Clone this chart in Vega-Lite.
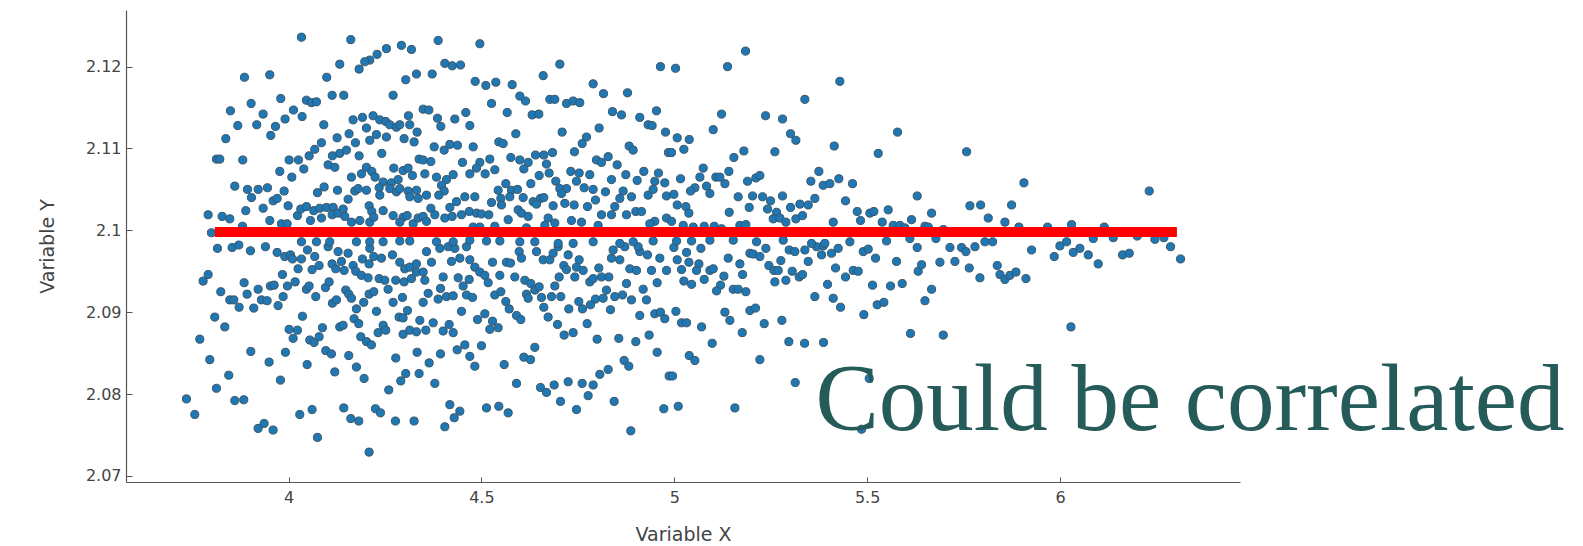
{
"$schema":"https://vega.github.io/schema/vega-lite/v6.json",
"width":1114,"height":472,
"autosize":{"type":"none"},
"padding":{"left":126,"top":10,"right":343,"bottom":64},
"background":"white",
"config":{"view":{"stroke":null}},
"datasets":{
"fit":[{"x":3.809,"y":2.0998},{"x":6.303,"y":2.0998}],
"note":[{"x":5.3658,"y":2.07563,"label":"Could be correlated"}],
"points":[
{"x":4.0335,"y":2.1236},{"x":4.1614,"y":2.1233},{"x":4.2927,"y":2.1226},{"x":4.3186,"y":2.1221},{"x":4.2538,"y":2.1222},{"x":4.2296,"y":2.1215},{"x":4.2106,"y":2.1208},{"x":4.1976,"y":2.1206},{"x":4.1830,"y":2.1197},{"x":4.1328,"y":2.1203},{"x":4.3039,"y":2.1184},{"x":4.3316,"y":2.1191},{"x":3.8857,"y":2.1187},{"x":3.9514,"y":2.1190},{"x":4.0991,"y":2.1187},{"x":4.2711,"y":2.1165},{"x":4.1130,"y":2.1165},{"x":4.1432,"y":2.1165},{"x":3.9799,"y":2.1161},{"x":4.0464,"y":2.1159},{"x":4.0594,"y":2.1156},{"x":4.0724,"y":2.1157},{"x":3.9030,"y":2.1155},{"x":3.8494,"y":2.1146},{"x":3.9341,"y":2.1142},{"x":4.0128,"y":2.1147},{"x":4.0352,"y":2.1139},{"x":3.9911,"y":2.1136},{"x":3.8685,"y":2.1128},{"x":3.9177,"y":2.1129},{"x":3.9661,"y":2.1127},{"x":3.9540,"y":2.1116},{"x":3.8374,"y":2.1112},{"x":4.0914,"y":2.1129},{"x":4.1674,"y":2.1135},{"x":4.1916,"y":2.1138},{"x":4.2192,"y":2.1140},{"x":4.2365,"y":2.1135},{"x":4.2521,"y":2.1133},{"x":4.2625,"y":2.1129},{"x":4.2797,"y":2.1126},{"x":4.2884,"y":2.1129},{"x":4.3109,"y":2.1140},{"x":4.3143,"y":2.1129},{"x":4.3333,"y":2.1120},{"x":4.2020,"y":2.1125},{"x":4.2279,"y":2.1117},{"x":4.2538,"y":2.1114},{"x":4.1570,"y":2.1118},{"x":4.1259,"y":2.1113},{"x":4.2106,"y":2.1110},{"x":4.1735,"y":2.1107},{"x":4.0853,"y":2.1107},{"x":4.0680,"y":2.1099},{"x":4.0534,"y":2.1091},{"x":4.1138,"y":2.1091},{"x":4.1328,"y":2.1094},{"x":4.1501,"y":2.1098},{"x":4.1830,"y":2.1091},{"x":4.2417,"y":2.1094},{"x":4.2996,"y":2.1112},{"x":4.3255,"y":2.1108},{"x":3.8132,"y":2.1087},{"x":3.8218,"y":2.1087},{"x":3.8814,"y":2.1086},{"x":4.0016,"y":2.1086},{"x":4.0258,"y":2.1086},{"x":4.0396,"y":2.1075},{"x":3.9774,"y":2.1072},{"x":4.0085,"y":2.1065},{"x":4.1027,"y":2.1080},{"x":4.1200,"y":2.1077},{"x":4.1631,"y":2.1065},{"x":4.1891,"y":2.1069},{"x":4.2020,"y":2.1077},{"x":4.2159,"y":2.1072},{"x":4.2245,"y":2.1065},{"x":4.2453,"y":2.1059},{"x":4.2669,"y":2.1058},{"x":4.2842,"y":2.1062},{"x":4.2728,"y":2.1076},{"x":4.2970,"y":2.1073},{"x":4.3100,"y":2.1076},{"x":4.3385,"y":2.1087},{"x":4.3212,"y":2.1067},{"x":3.8607,"y":2.1054},{"x":3.8936,"y":2.1050},{"x":3.9212,"y":2.1050},{"x":3.9454,"y":2.1052},{"x":3.9039,"y":2.1040},{"x":3.9886,"y":2.1048},{"x":3.9601,"y":2.1036},{"x":3.9705,"y":2.1039},{"x":3.9990,"y":2.1030},{"x":4.0750,"y":2.1046},{"x":4.0923,"y":2.1053},{"x":4.1269,"y":2.1049},{"x":4.1545,"y":2.1038},{"x":4.1718,"y":2.1048},{"x":4.1805,"y":2.1051},{"x":4.2020,"y":2.1049},{"x":4.2349,"y":2.1052},{"x":4.2366,"y":2.1043},{"x":4.2625,"y":2.1051},{"x":4.2798,"y":2.1047},{"x":4.2884,"y":2.1051},{"x":4.3101,"y":2.1048},{"x":4.3317,"y":2.1049},{"x":4.3144,"y":2.1041},{"x":4.3360,"y":2.1039},{"x":3.8892,"y":2.1024},{"x":3.9342,"y":2.1027},{"x":3.7916,"y":2.1019},{"x":3.8279,"y":2.1017},{"x":3.8478,"y":2.1014},{"x":3.8806,"y":2.1005},{"x":3.9515,"y":2.1012},{"x":3.9817,"y":2.1008},{"x":3.9964,"y":2.1008},{"x":4.0232,"y":2.1018},{"x":4.0318,"y":2.1026},{"x":4.0465,"y":2.1029},{"x":4.0655,"y":2.1024},{"x":4.0811,"y":2.1027},{"x":4.0984,"y":2.1028},{"x":4.1157,"y":2.1028},{"x":4.0854,"y":2.1015},{"x":4.0569,"y":2.1012},{"x":4.1131,"y":2.1019},{"x":4.1286,"y":2.1021},{"x":4.1416,"y":2.1026},{"x":4.1459,"y":2.1017},{"x":4.1632,"y":2.1010},{"x":4.1848,"y":2.1012},{"x":4.2090,"y":2.1030},{"x":4.2159,"y":2.1023},{"x":4.2453,"y":2.1024},{"x":4.2107,"y":2.1010},{"x":4.2211,"y":2.1016},{"x":4.2712,"y":2.1018},{"x":4.2971,"y":2.1016},{"x":4.3075,"y":2.1018},{"x":4.2885,"y":2.1010},{"x":4.3231,"y":2.1008},{"x":4.3360,"y":2.1015},{"x":3.8002,"y":2.0997},
{"x":4.3879,"y":2.1232},{"x":4.4960,"y":2.1228},{"x":4.4052,"y":2.1204},{"x":4.4242,"y":2.1201},{"x":4.4458,"y":2.1202},{"x":4.7033,"y":2.1203},{"x":4.9642,"y":2.1200},{"x":4.3724,"y":2.1191},{"x":4.6601,"y":2.1189},{"x":4.4838,"y":2.1182},{"x":4.5115,"y":2.1177},{"x":4.5374,"y":2.1181},{"x":4.5797,"y":2.1178},{"x":4.7897,"y":2.1179},{"x":4.8165,"y":2.1167},{"x":4.8787,"y":2.1168},{"x":4.5996,"y":2.1164},{"x":4.6143,"y":2.1158},{"x":4.5262,"y":2.1155},{"x":4.6774,"y":2.1160},{"x":4.6903,"y":2.1160},{"x":4.7206,"y":2.1155},{"x":4.7378,"y":2.1158},{"x":4.7551,"y":2.1156},{"x":4.5668,"y":2.1144},{"x":4.6316,"y":2.1141},{"x":4.6488,"y":2.1142},{"x":4.8398,"y":2.1145},{"x":4.8631,"y":2.1141},{"x":4.9106,"y":2.1138},{"x":4.9538,"y":2.1146},{"x":4.9322,"y":2.1129},{"x":4.9426,"y":2.1128},{"x":4.3490,"y":2.1148},{"x":4.3637,"y":2.1147},{"x":4.3862,"y":2.1137},{"x":4.3948,"y":2.1127},{"x":4.4311,"y":2.1136},{"x":4.4596,"y":2.1144},{"x":4.4700,"y":2.1128},{"x":4.5892,"y":2.1118},{"x":4.7093,"y":2.1120},{"x":4.8052,"y":2.1125},{"x":4.9772,"y":2.1120},{"x":4.7724,"y":2.1114},{"x":4.7612,"y":2.1106},{"x":4.8830,"y":2.1103},{"x":4.8934,"y":2.1098},{"x":4.9849,"y":2.1095},{"x":4.7413,"y":2.1096},{"x":4.5452,"y":2.1108},{"x":4.5564,"y":2.1106},{"x":4.3776,"y":2.1102},{"x":4.4035,"y":2.1098},{"x":4.4182,"y":2.1105},{"x":4.4380,"y":2.1104},{"x":4.4786,"y":2.1102},{"x":4.3490,"y":2.1086},{"x":4.3689,"y":2.1084},{"x":4.4510,"y":2.1083},{"x":4.4960,"y":2.1083},{"x":4.5218,"y":2.1087},{"x":4.4873,"y":2.1076},{"x":4.5097,"y":2.1069},{"x":4.5348,"y":2.1074},{"x":4.5763,"y":2.1089},{"x":4.5996,"y":2.1086},{"x":4.6212,"y":2.1083},{"x":4.6100,"y":2.1075},{"x":4.6402,"y":2.1092},{"x":4.6618,"y":2.1092},{"x":4.6843,"y":2.1095},{"x":4.6687,"y":2.1081},{"x":4.6756,"y":2.1070},{"x":4.6497,"y":2.1067},{"x":4.6281,"y":2.1057},{"x":4.7318,"y":2.1072},{"x":4.7534,"y":2.1070},{"x":4.7810,"y":2.1068},{"x":4.7465,"y":2.1060},{"x":4.7983,"y":2.1086},{"x":4.8113,"y":2.1083},{"x":4.8286,"y":2.1090},{"x":4.8519,"y":2.1080},{"x":4.8744,"y":2.1068},{"x":4.9037,"y":2.1061},{"x":4.9210,"y":2.1072},{"x":4.9590,"y":2.1070},{"x":4.9495,"y":2.1060},{"x":4.9754,"y":2.1058},{"x":4.8372,"y":2.1062},{"x":4.3534,"y":2.1069},{"x":4.3836,"y":2.1065},{"x":4.4095,"y":2.1062},{"x":4.4268,"y":2.1068},{"x":4.3966,"y":2.1055},{"x":4.4035,"y":2.1048},{"x":4.3896,"y":2.1043},{"x":4.3577,"y":2.1043},{"x":4.4700,"y":2.1069},{"x":4.5633,"y":2.1057},{"x":4.5434,"y":2.1049},{"x":4.5780,"y":2.1049},{"x":4.5936,"y":2.1050},{"x":4.5504,"y":2.1039},{"x":4.5737,"y":2.1041},{"x":4.6082,"y":2.1040},{"x":4.6342,"y":2.1035},{"x":4.6532,"y":2.1039},{"x":4.6618,"y":2.1040},{"x":4.6860,"y":2.1030},{"x":4.6929,"y":2.1060},{"x":4.7033,"y":2.1051},{"x":4.7206,"y":2.1051},{"x":4.7076,"y":2.1045},{"x":4.7664,"y":2.1052},{"x":4.7897,"y":2.1050},{"x":4.8216,"y":2.1047},{"x":4.8674,"y":2.1048},{"x":4.8588,"y":2.1039},{"x":4.8890,"y":2.1041},{"x":4.9322,"y":2.1043},{"x":4.9452,"y":2.1050},{"x":4.9798,"y":2.1042},{"x":4.4570,"y":2.1041},{"x":4.4830,"y":2.1041},{"x":4.5262,"y":2.1034},{"x":4.5521,"y":2.1031},{"x":4.5953,"y":2.1025},{"x":4.6039,"y":2.1021},{"x":4.6212,"y":2.1017},{"x":4.5694,"y":2.1013},{"x":4.6428,"y":2.1032},{"x":4.7162,"y":2.1033},{"x":4.7404,"y":2.1031},{"x":4.7750,"y":2.1029},{"x":4.7957,"y":2.1037},{"x":4.8458,"y":2.1029},{"x":4.8372,"y":2.1019},{"x":4.8113,"y":2.1019},{"x":4.8761,"y":2.1019},{"x":4.9003,"y":2.1023},{"x":4.9150,"y":2.1023},{"x":4.9798,"y":2.1015},{"x":4.9495,"y":2.1011},{"x":4.9366,"y":2.1008},{"x":4.3689,"y":2.1027},{"x":4.3793,"y":2.1019},{"x":4.3490,"y":2.1017},{"x":4.3577,"y":2.1011},{"x":4.4052,"y":2.1015},{"x":4.4242,"y":2.1017},{"x":4.4182,"y":2.1028},{"x":4.4354,"y":2.1035},{"x":4.4484,"y":2.1019},{"x":4.4683,"y":2.1023},{"x":4.4873,"y":2.1021},{"x":4.5002,"y":2.1020},{"x":4.5192,"y":2.1019},{"x":4.6730,"y":2.1015},{"x":4.6903,"y":2.1009},{"x":4.7335,"y":2.1012},{"x":4.7594,"y":2.1010},{"x":4.4786,"y":2.1004},{"x":4.4960,"y":2.1004},{"x":4.5348,"y":2.1005},{"x":4.6169,"y":2.1003},{"x":4.6644,"y":2.1006},{"x":4.8026,"y":2.1006},
{"x":5.0033,"y":2.1198},{"x":5.1847,"y":2.1219},{"x":5.1381,"y":2.1200},{"x":5.4292,"y":2.1182},{"x":5.3385,"y":2.1160},{"x":5.1225,"y":2.1142},{"x":5.2366,"y":2.1140},{"x":5.2806,"y":2.1136},{"x":5.1009,"y":2.1123},{"x":5.0076,"y":2.1113},{"x":5.0387,"y":2.1111},{"x":5.0249,"y":2.1099},{"x":4.9929,"y":2.1095},{"x":5.3014,"y":2.1118},{"x":5.3152,"y":2.1110},{"x":5.2608,"y":2.1096},{"x":5.1804,"y":2.1097},{"x":5.1545,"y":2.1089},{"x":5.4146,"y":2.1103},{"x":5.5787,"y":2.1120},{"x":5.5286,"y":2.1094},{"x":5.0750,"y":2.1076},{"x":5.0664,"y":2.1065},{"x":5.0162,"y":2.1063},{"x":5.1415,"y":2.1072},{"x":5.1078,"y":2.1065},{"x":5.1182,"y":2.1065},{"x":5.1312,"y":2.1057},{"x":5.0836,"y":2.1054},{"x":5.0534,"y":2.1052},{"x":5.0422,"y":2.1048},{"x":5.0923,"y":2.1045},{"x":4.9990,"y":2.1044},{"x":5.1899,"y":2.1060},{"x":5.2115,"y":2.1064},{"x":5.2219,"y":2.1067},{"x":5.3748,"y":2.1072},{"x":5.3541,"y":2.1060},{"x":5.3860,"y":2.1055},{"x":5.4033,"y":2.1057},{"x":5.4266,"y":2.1063},{"x":5.4621,"y":2.1057},{"x":5.1657,"y":2.1041},{"x":5.2029,"y":2.1042},{"x":5.2288,"y":2.1041},{"x":5.2495,"y":2.1036},{"x":5.2806,"y":2.1042},{"x":5.3644,"y":2.1039},{"x":5.4439,"y":2.1036},{"x":5.6297,"y":2.1042},{"x":5.0076,"y":2.1031},{"x":5.0301,"y":2.1029},{"x":5.0378,"y":2.1021},{"x":5.1942,"y":2.1028},{"x":5.2418,"y":2.1026},{"x":5.2651,"y":2.1022},{"x":5.3014,"y":2.1028},{"x":5.3256,"y":2.1032},{"x":5.3472,"y":2.1031},{"x":5.1424,"y":2.1022},{"x":5.2564,"y":2.1014},{"x":5.2737,"y":2.1015},{"x":5.2893,"y":2.1010},{"x":5.3152,"y":2.1014},{"x":5.3325,"y":2.1018},{"x":5.4742,"y":2.1023},{"x":5.5070,"y":2.1021},{"x":5.5174,"y":2.1023},{"x":5.5545,"y":2.1025},{"x":5.4828,"y":2.1012},{"x":5.5390,"y":2.1010},{"x":5.6150,"y":2.1013},{"x":5.4120,"y":2.1010},{"x":5.0232,"y":2.1006},{"x":5.0491,"y":2.1004},{"x":5.0776,"y":2.1005},{"x":5.1035,"y":2.1005},{"x":5.1225,"y":2.1002},{"x":5.1700,"y":2.1006},{"x":5.1856,"y":2.1007},{"x":5.5675,"y":2.1006},{"x":5.5848,"y":2.1006},{"x":5.5977,"y":2.1003},{"x":4.9929,"y":2.1011},
{"x":5.7578,"y":2.1096},{"x":5.9064,"y":2.1058},{"x":6.2312,"y":2.1048},{"x":5.7664,"y":2.1030},{"x":5.7941,"y":2.1031},{"x":5.8744,"y":2.1031},{"x":5.6670,"y":2.1021},{"x":5.8139,"y":2.1015},{"x":5.8571,"y":2.1010},{"x":5.6498,"y":2.1005},{"x":5.6584,"y":2.1004},{"x":5.6973,"y":2.1001},{"x":5.8934,"y":2.1004},{"x":5.9677,"y":2.1004},{"x":6.0299,"y":2.1007},{"x":6.1146,"y":2.1004},{"x":5.6783,"y":2.0990},{"x":5.8053,"y":2.0986},{"x":5.8252,"y":2.0986},{"x":6.0861,"y":2.0990},{"x":6.1379,"y":2.0991},{"x":6.2001,"y":2.0993},{"x":6.2459,"y":2.0989},{"x":6.2692,"y":2.0991},{"x":6.0170,"y":2.0986},
{"x":3.8158,"y":2.0978},{"x":3.8538,"y":2.0979},{"x":3.8711,"y":2.0982},{"x":3.9013,"y":2.0975},{"x":3.9402,"y":2.0980},{"x":3.9704,"y":2.0973},{"x":3.9903,"y":2.0968},{"x":4.0050,"y":2.0970},{"x":4.0102,"y":2.0965},{"x":4.0335,"y":2.0965},{"x":4.0248,"y":2.0953},{"x":4.0490,"y":2.0976},{"x":4.0680,"y":2.0968},{"x":4.0793,"y":2.0957},{"x":4.0611,"y":2.0952},{"x":4.1026,"y":2.0980},{"x":4.1130,"y":2.0959},{"x":4.1285,"y":2.0974},{"x":4.1372,"y":2.0962},{"x":4.1225,"y":2.0953},{"x":4.1441,"y":2.0951},{"x":4.1544,"y":2.0972},{"x":4.1674,"y":2.0957},{"x":4.1743,"y":2.0950},{"x":4.1916,"y":2.0965},{"x":4.2106,"y":2.0978},{"x":4.2210,"y":2.0968},{"x":4.2089,"y":2.0959},{"x":4.1890,"y":2.0945},{"x":4.2063,"y":2.0942},{"x":4.2408,"y":2.0966},{"x":4.2694,"y":2.0970},{"x":4.2884,"y":2.0961},{"x":4.3013,"y":2.0953},{"x":4.3143,"y":2.0955},{"x":4.3316,"y":2.0949},{"x":4.2348,"y":2.0941},{"x":4.2495,"y":2.0939},{"x":4.2780,"y":2.0939},{"x":4.2996,"y":2.0937},{"x":4.3186,"y":2.0941},{"x":4.3316,"y":2.0959},{"x":3.7916,"y":2.0946},{"x":3.7786,"y":2.0938},{"x":3.8244,"y":2.0925},{"x":3.8477,"y":2.0915},{"x":3.8581,"y":2.0915},{"x":3.8719,"y":2.0906},{"x":3.8849,"y":2.0936},{"x":3.8926,"y":2.0922},{"x":3.9212,"y":2.0928},{"x":3.9298,"y":2.0915},{"x":3.9445,"y":2.0914},{"x":3.9531,"y":2.0932},{"x":3.9626,"y":2.0933},{"x":3.9842,"y":2.0946},{"x":3.9860,"y":2.0919},{"x":3.9730,"y":2.0908},{"x":3.9972,"y":2.0932},{"x":4.0171,"y":2.0937},{"x":4.0464,"y":2.0928},{"x":4.0534,"y":2.0932},{"x":4.0706,"y":2.0919},{"x":4.0957,"y":2.0930},{"x":4.1052,"y":2.0937},{"x":3.9099,"y":2.0905},{"x":4.1138,"y":2.0911},{"x":4.1242,"y":2.0915},{"x":4.1484,"y":2.0927},{"x":4.1562,"y":2.0922},{"x":4.1631,"y":2.0917},{"x":4.1760,"y":2.0904},{"x":4.1950,"y":2.0912},{"x":4.2089,"y":2.0922},{"x":4.2210,"y":2.0925},{"x":4.2279,"y":2.0901},{"x":4.2581,"y":2.0928},{"x":4.2711,"y":2.0912},{"x":4.2953,"y":2.0918},{"x":4.3083,"y":2.0902},{"x":4.2866,"y":2.0894},{"x":4.2970,"y":2.0893},{"x":3.8088,"y":2.0894},{"x":3.8348,"y":2.0882},{"x":3.7700,"y":2.0867},{"x":4.0361,"y":2.0895},{"x":4.0015,"y":2.0879},{"x":4.0231,"y":2.0878},{"x":4.0119,"y":2.0868},{"x":4.0551,"y":2.0866},{"x":4.0663,"y":2.0863},{"x":4.0793,"y":2.0870},{"x":4.0879,"y":2.0881},{"x":4.1328,"y":2.0882},{"x":4.1415,"y":2.0884},{"x":4.1700,"y":2.0892},{"x":4.1821,"y":2.0886},{"x":4.1873,"y":2.0870},{"x":4.2020,"y":2.0864},{"x":4.2149,"y":2.0860},{"x":4.2322,"y":2.0875},{"x":4.2452,"y":2.0884},{"x":4.2521,"y":2.0878},{"x":4.2970,"y":2.0873},{"x":4.3143,"y":2.0878},{"x":4.3316,"y":2.0876},{"x":4.3333,"y":2.0851},{"x":3.7959,"y":2.0842},{"x":3.9022,"y":2.0852},{"x":3.9497,"y":2.0839},{"x":3.9920,"y":2.0851},{"x":4.0482,"y":2.0836},{"x":4.0966,"y":2.0853},{"x":4.1112,"y":2.0849},{"x":4.1562,"y":2.0847},{"x":4.1760,"y":2.0833},{"x":4.1959,"y":2.0819},{"x":4.2780,"y":2.0844},{"x":4.3039,"y":2.0825},{"x":4.2910,"y":2.0816},{"x":4.3385,"y":2.0825},{"x":4.1199,"y":2.0827},{"x":3.8451,"y":2.0823},{"x":3.8132,"y":2.0807},{"x":3.9790,"y":2.0817},{"x":3.7354,"y":2.0794},{"x":3.7570,"y":2.0775},{"x":3.8607,"y":2.0792},{"x":3.8840,"y":2.0793},{"x":4.2598,"y":2.0805},{"x":3.9212,"y":2.0758},{"x":3.9367,"y":2.0764},{"x":3.9600,"y":2.0756},{"x":4.0292,"y":2.0775},{"x":4.0611,"y":2.0781},{"x":4.1432,"y":2.0783},{"x":4.1614,"y":2.0770},{"x":4.1821,"y":2.0767},{"x":4.2253,"y":2.0782},{"x":4.2383,"y":2.0777},{"x":4.2771,"y":2.0767},{"x":4.3255,"y":2.0767},{"x":4.0750,"y":2.0747},{"x":4.2089,"y":2.0729},
{"x":4.3577,"y":2.0974},{"x":4.3706,"y":2.0961},{"x":4.3922,"y":2.0978},{"x":4.4138,"y":2.0980},{"x":4.4311,"y":2.0978},{"x":4.4614,"y":2.0980},{"x":4.4225,"y":2.0962},{"x":4.4441,"y":2.0966},{"x":4.4700,"y":2.0964},{"x":4.4830,"y":2.0955},{"x":4.4959,"y":2.0949},{"x":4.5089,"y":2.0945},{"x":4.5175,"y":2.0936},{"x":4.5288,"y":2.0961},{"x":4.5478,"y":2.0945},{"x":4.5650,"y":2.0961},{"x":4.5754,"y":2.0960},{"x":4.5866,"y":2.0943},{"x":4.5979,"y":2.0974},{"x":4.6039,"y":2.0966},{"x":4.6126,"y":2.0939},{"x":4.6281,"y":2.0935},{"x":4.6385,"y":2.0927},{"x":4.6497,"y":2.0931},{"x":4.6428,"y":2.0974},{"x":4.6601,"y":2.0964},{"x":4.6774,"y":2.0964},{"x":4.6860,"y":2.0972},{"x":4.6990,"y":2.0980},{"x":4.7016,"y":2.0943},{"x":4.6903,"y":2.0932},{"x":4.7136,"y":2.0957},{"x":4.7249,"y":2.0970},{"x":4.7206,"y":2.0952},{"x":4.7422,"y":2.0943},{"x":4.7465,"y":2.0955},{"x":4.7534,"y":2.0964},{"x":4.7638,"y":2.0951},{"x":4.7810,"y":2.0937},{"x":4.7897,"y":2.0941},{"x":4.8044,"y":2.0954},{"x":4.8113,"y":2.0943},{"x":4.8303,"y":2.0943},{"x":4.8415,"y":2.0976},{"x":4.8372,"y":2.0966},{"x":4.8588,"y":2.0964},{"x":4.8761,"y":2.0935},{"x":4.8847,"y":2.0953},{"x":4.9020,"y":2.0951},{"x":4.9106,"y":2.0974},{"x":4.9305,"y":2.0970},{"x":4.9409,"y":2.0951},{"x":4.9556,"y":2.0936},{"x":4.9625,"y":2.0966},{"x":4.9798,"y":2.0951},{"x":4.9063,"y":2.0980},{"x":4.8718,"y":2.0980},{"x":4.3490,"y":2.0949},{"x":4.3534,"y":2.0939},{"x":4.4009,"y":2.0943},{"x":4.4398,"y":2.0942},{"x":4.4683,"y":2.0940},{"x":4.4527,"y":2.0932},{"x":4.3940,"y":2.0929},{"x":4.3620,"y":2.0923},{"x":4.3490,"y":2.0912},{"x":4.3879,"y":2.0916},{"x":4.4095,"y":2.0919},{"x":4.4268,"y":2.0920},{"x":4.4614,"y":2.0921},{"x":4.4769,"y":2.0918},{"x":4.5348,"y":2.0921},{"x":4.5504,"y":2.0925},{"x":4.5633,"y":2.0913},{"x":4.5720,"y":2.0904},{"x":4.5910,"y":2.0896},{"x":4.6022,"y":2.0891},{"x":4.6169,"y":2.0922},{"x":4.6212,"y":2.0917},{"x":4.6558,"y":2.0918},{"x":4.6618,"y":2.0906},{"x":4.6730,"y":2.0894},{"x":4.6817,"y":2.0919},{"x":4.7059,"y":2.0919},{"x":4.7266,"y":2.0904},{"x":4.7525,"y":2.0913},{"x":4.7620,"y":2.0904},{"x":4.7741,"y":2.0886},{"x":4.7828,"y":2.0909},{"x":4.7957,"y":2.0916},{"x":4.8156,"y":2.0917},{"x":4.8242,"y":2.0927},{"x":4.8346,"y":2.0903},{"x":4.8458,"y":2.0919},{"x":4.8657,"y":2.0921},{"x":4.8890,"y":2.0915},{"x":4.9193,"y":2.0928},{"x":4.9279,"y":2.0915},{"x":4.9106,"y":2.0896},{"x":4.9495,"y":2.0898},{"x":4.9642,"y":2.0900},{"x":4.9754,"y":2.0892},{"x":4.9348,"y":2.0872},{"x":4.9556,"y":2.0851},{"x":4.4484,"y":2.0901},{"x":4.4899,"y":2.0891},{"x":4.5089,"y":2.0898},{"x":4.5288,"y":2.0889},{"x":4.5218,"y":2.0879},{"x":4.5434,"y":2.0881},{"x":4.3404,"y":2.0890},{"x":4.3750,"y":2.0887},{"x":4.3560,"y":2.0878},{"x":4.4009,"y":2.0877},{"x":4.4164,"y":2.0885},{"x":4.4268,"y":2.0875},{"x":4.7145,"y":2.0872},{"x":4.7378,"y":2.0875},{"x":4.6972,"y":2.0885},{"x":4.8000,"y":2.0867},{"x":4.8562,"y":2.0868},{"x":4.9003,"y":2.0864},{"x":4.5002,"y":2.0859},{"x":4.4570,"y":2.0860},{"x":4.4372,"y":2.0854},{"x":4.4700,"y":2.0846},{"x":4.4830,"y":2.0834},{"x":4.3940,"y":2.0849},{"x":4.3646,"y":2.0838},{"x":4.3793,"y":2.0813},{"x":4.5590,"y":2.0836},{"x":4.6100,"y":2.0845},{"x":4.6273,"y":2.0842},{"x":4.6385,"y":2.0857},{"x":4.8700,"y":2.0841},{"x":4.8821,"y":2.0834},{"x":4.8286,"y":2.0830},{"x":4.8070,"y":2.0824},{"x":4.9867,"y":2.0822},{"x":4.5910,"y":2.0813},{"x":4.6532,"y":2.0808},{"x":4.6687,"y":2.0802},{"x":4.6886,"y":2.0811},{"x":4.7249,"y":2.0815},{"x":4.7612,"y":2.0813},{"x":4.7897,"y":2.0811},{"x":4.7767,"y":2.0798},{"x":4.7050,"y":2.0791},{"x":4.7465,"y":2.0781},{"x":4.8441,"y":2.0791},{"x":4.9728,"y":2.0782},{"x":4.4182,"y":2.0787},{"x":4.4441,"y":2.0779},{"x":4.4294,"y":2.0771},{"x":4.4052,"y":2.0760},{"x":4.5132,"y":2.0783},{"x":4.5452,"y":2.0785},{"x":4.5694,"y":2.0777},{"x":4.8873,"y":2.0755},
{"x":4.9990,"y":2.0979},{"x":5.0318,"y":2.0973},{"x":5.0690,"y":2.0978},{"x":5.0076,"y":2.0964},{"x":5.0378,"y":2.0961},{"x":5.0638,"y":2.0959},{"x":5.0188,"y":2.0952},{"x":5.0577,"y":2.0951},{"x":5.0923,"y":2.0951},{"x":5.1009,"y":2.0953},{"x":5.0249,"y":2.0938},{"x":5.0448,"y":2.0934},{"x":5.0776,"y":2.0940},{"x":5.1286,"y":2.0944},{"x":5.1199,"y":2.0933},{"x":5.1096,"y":2.0926},{"x":5.1398,"y":2.0966},{"x":5.1700,"y":2.0959},{"x":5.1770,"y":2.0946},{"x":5.1528,"y":2.0928},{"x":5.1657,"y":2.0928},{"x":5.1856,"y":2.0925},{"x":5.1960,"y":2.0972},{"x":5.2046,"y":2.0971},{"x":5.2219,"y":2.0968},{"x":5.2374,"y":2.0978},{"x":5.2452,"y":2.0957},{"x":5.2582,"y":2.0951},{"x":5.2694,"y":2.0951},{"x":5.2763,"y":2.0963},{"x":5.2608,"y":2.0937},{"x":5.2893,"y":2.0939},{"x":5.2979,"y":2.0976},{"x":5.3126,"y":2.0974},{"x":5.3385,"y":2.0976},{"x":5.3472,"y":2.0962},{"x":5.3057,"y":2.0950},{"x":5.3238,"y":2.0943},{"x":5.3325,"y":2.0946},{"x":5.3688,"y":2.0980},{"x":5.3860,"y":2.0981},{"x":5.3817,"y":2.0970},{"x":5.4076,"y":2.0972},{"x":5.4249,"y":2.0978},{"x":5.4180,"y":2.0954},{"x":5.4439,"y":2.0943},{"x":5.4638,"y":2.0951},{"x":5.4768,"y":2.0950},{"x":5.3973,"y":2.0934},{"x":5.3644,"y":2.0919},{"x":5.4120,"y":2.0917},{"x":5.4310,"y":2.0906},{"x":5.4897,"y":2.0974},{"x":5.5027,"y":2.0977},{"x":5.5217,"y":2.0966},{"x":5.5761,"y":2.0962},{"x":5.6297,"y":2.0979},{"x":5.6323,"y":2.0950},{"x":5.5139,"y":2.0933},{"x":5.5606,"y":2.0932},{"x":5.5908,"y":2.0935},{"x":5.5260,"y":2.0909},{"x":5.5433,"y":2.0912},{"x":5.4914,"y":2.0897},{"x":5.0042,"y":2.0901},{"x":5.0188,"y":2.0887},{"x":5.0318,"y":2.0887},{"x":5.0707,"y":2.0882},{"x":5.1312,"y":2.0900},{"x":5.1441,"y":2.0890},{"x":5.1960,"y":2.0902},{"x":5.2106,"y":2.0905},{"x":5.2331,"y":2.0886},{"x":5.2789,"y":2.0890},{"x":5.1761,"y":2.0875},{"x":5.0983,"y":2.0862},{"x":5.2970,"y":2.0864},{"x":5.3377,"y":2.0862},{"x":5.3869,"y":2.0863},{"x":5.6124,"y":2.0874},{"x":5.0387,"y":2.0847},{"x":5.0534,"y":2.0841},{"x":5.2219,"y":2.0842},{"x":4.9955,"y":2.0822},{"x":5.3135,"y":2.0814},{"x":5.0102,"y":2.0785},{"x":5.1571,"y":2.0783},{"x":5.5053,"y":2.0819},{"x":5.4854,"y":2.0757},
{"x":5.7146,"y":2.0979},{"x":5.7448,"y":2.0979},{"x":5.7794,"y":2.0980},{"x":5.7560,"y":2.0974},{"x":5.6411,"y":2.0958},{"x":5.6886,"y":2.0961},{"x":5.7275,"y":2.0962},{"x":5.7647,"y":2.0954},{"x":5.7923,"y":2.0942},{"x":5.8372,"y":2.0957},{"x":5.8442,"y":2.0946},{"x":5.8571,"y":2.0940},{"x":5.8701,"y":2.0945},{"x":5.8856,"y":2.0949},{"x":5.9116,"y":2.0941},{"x":5.9262,"y":2.0976},{"x":5.9850,"y":2.0968},{"x":5.9997,"y":2.0981},{"x":6.0342,"y":2.0973},{"x":6.0515,"y":2.0978},{"x":6.0731,"y":2.0970},{"x":6.0990,"y":2.0959},{"x":6.1621,"y":2.0970},{"x":6.1794,"y":2.0972},{"x":6.2865,"y":2.0980},{"x":6.3124,"y":2.0965},{"x":5.6670,"y":2.0928},{"x":5.6498,"y":2.0914},{"x":5.6973,"y":2.0872},{"x":6.0282,"y":2.0882},
{"x":4.0335,"y":2.0986},{"x":4.0724,"y":2.0986},{"x":4.1069,"y":2.0986},{"x":4.1760,"y":2.0986},{"x":4.2106,"y":2.0986},{"x":4.2452,"y":2.0986},{"x":4.2884,"y":2.0987},{"x":4.3143,"y":2.0987},{"x":4.3836,"y":2.0986},{"x":4.4268,"y":2.0986},{"x":4.4700,"y":2.0988},{"x":4.5132,"y":2.0987},{"x":4.5478,"y":2.0987},{"x":4.5996,"y":2.0986},{"x":4.6385,"y":2.0986},{"x":4.6990,"y":2.0984},{"x":4.7378,"y":2.0984},{"x":4.7897,"y":2.0986},{"x":4.8588,"y":2.0984},{"x":4.8934,"y":2.0986},{"x":4.9452,"y":2.0987},{"x":5.0059,"y":2.0987},{"x":5.0448,"y":2.0987},{"x":5.0923,"y":2.0988},{"x":5.1528,"y":2.0988},{"x":5.2132,"y":2.0986},{"x":5.2824,"y":2.0988},{"x":5.3558,"y":2.0984},{"x":5.3904,"y":2.0984},{"x":5.4552,"y":2.0986},{"x":5.5502,"y":2.0987},{"x":5.6107,"y":2.0990}
]},
"layer":[
{"data":{"name":"points"},"mark":{"type":"point","filled":true,"size":66,"fill":"#1f77b4","stroke":"#3b5566","strokeWidth":1,"opacity":1},
"encoding":{
"x":{"field":"x","type":"quantitative","scale":{"domain":[3.5787,6.4665],"nice":false,"zero":false},
"axis":{"values":[4,4.5,5,5.5,6],"format":".1~f","title":"Variable X","grid":false,"domainColor":"#555","domainWidth":1.2,"tickColor":"#555","tickSize":-5,"labelPadding":12,"labelFont":"DejaVu Sans","labelFontSize":16,"labelColor":"#444","titleFont":"DejaVu Sans","titleFontSize":19,"titleFontWeight":"normal","titleColor":"#444","titlePadding":20}},
"y":{"field":"y","type":"quantitative","scale":{"domain":[2.06925,2.12692],"nice":false,"zero":false},
"axis":{"values":[2.07,2.08,2.09,2.1,2.11,2.12],"format":".2~f","title":"Variable Y","grid":false,"domainColor":"#555","domainWidth":1.2,"tickColor":"#555","tickSize":-6,"labelPadding":11,"labelFont":"DejaVu Sans","labelFontSize":16,"labelColor":"#444","titleFont":"DejaVu Sans","titleFontSize":19,"titleFontWeight":"normal","titleColor":"#444","titlePadding":28}}
}},
{"data":{"name":"fit"},"mark":{"type":"line","color":"#ff0000","strokeWidth":10,"strokeCap":"butt"},
"encoding":{"x":{"field":"x","type":"quantitative"},"y":{"field":"y","type":"quantitative"}}},
{"data":{"name":"note"},"mark":{"type":"text","font":"Liberation Serif","fontSize":95,"align":"left","baseline":"alphabetic","color":"#255b58"},
"encoding":{"x":{"field":"x","type":"quantitative"},"y":{"field":"y","type":"quantitative"},"text":{"field":"label"}}}
]
}
